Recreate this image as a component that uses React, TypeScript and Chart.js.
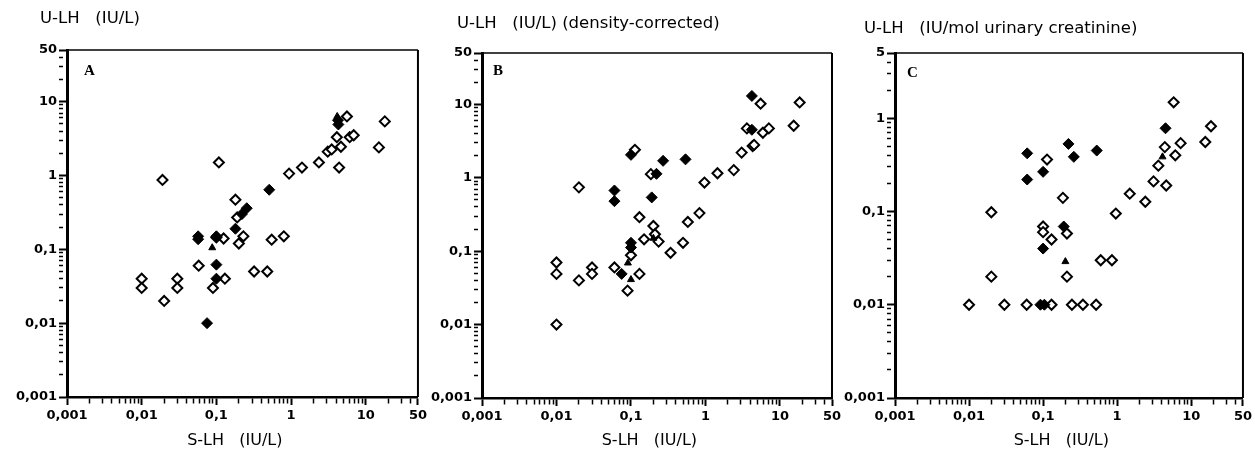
import { useEffect, useRef } from "react";
import { Chart, registerables } from "chart.js";
Chart.register(...registerables);

type Pt = [number, number];

// ---- Axis ticks ----
const xMajorValues = [0.001, 0.01, 0.1, 1, 10, 50];
const xMajorLabels = ["0,001", "0,01", "0,1", "1", "10", "50"];
const yMajorValuesAB = [0.001, 0.01, 0.1, 1, 10, 50];
const yMajorLabelsAB = ["0,001", "0,01", "0,1", "1", "10", "50"];
const yMajorValuesC = [0.001, 0.01, 0.1, 1, 5];
const yMajorLabelsC = ["0,001", "0,01", "0,1", "1", "5"];

// ---- Texts ----
const panelTitles = [
  "U-LH   (IU/L)",
  "U-LH   (IU/L) (density-corrected)",
  "U-LH   (IU/mol urinary creatinine)",
];
const panelLetters = ["A", "B", "C"];
const xAxisTitle = "S-LH   (IU/L)   ";

// ---- Panel A data (S-LH, U-LH) ----
const aOpen: Pt[] = [
  [0.01, 0.04], [0.01, 0.03], [0.019, 0.87], [0.02, 0.02], [0.03, 0.04], [0.03, 0.03],
  [0.058, 0.06], [0.09, 0.03], [0.108, 1.5], [0.13, 0.04], [0.125, 0.14], [0.1, 0.145],
  [0.18, 0.47], [0.19, 0.27], [0.2, 0.12], [0.23, 0.15], [0.32, 0.05], [0.48, 0.05],
  [0.55, 0.135], [0.8, 0.15], [0.94, 1.06], [1.4, 1.28], [2.36, 1.5], [3.1, 2.1],
  [3.5, 2.25], [4.1, 3.3], [4.4, 1.28], [4.65, 2.45], [5.6, 6.3], [6.1, 3.3],
  [6.9, 3.5], [15, 2.4], [18, 5.4],
];
const aFilled: Pt[] = [
  [0.057, 0.15], [0.057, 0.137], [0.1, 0.15], [0.1, 0.062], [0.1, 0.04], [0.075, 0.01],
  [0.18, 0.19], [0.22, 0.3], [0.255, 0.36], [0.51, 0.64], [4.25, 5.6], [4.3, 4.9],
];
const aTriangle: Pt[] = [[0.088, 0.105], [4.15, 6.3]];

// ---- Panel B data ----
const bOpen: Pt[] = [
  [0.01, 0.07], [0.01, 0.049], [0.01, 0.01], [0.02, 0.74], [0.02, 0.04], [0.03, 0.06],
  [0.03, 0.049], [0.06, 0.06], [0.09, 0.029], [0.1, 0.088], [0.113, 2.4], [0.13, 0.29],
  [0.13, 0.049], [0.15, 0.145], [0.185, 1.12], [0.2, 0.22], [0.21, 0.17], [0.235, 0.135],
  [0.34, 0.095], [0.5, 0.13], [0.58, 0.25], [0.83, 0.33], [0.97, 0.86], [1.45, 1.15],
  [2.4, 1.27], [3.06, 2.2], [3.6, 4.7], [4.3, 2.7], [4.5, 2.8], [5.5, 10.2], [5.9, 4.1],
  [7.1, 4.7], [15.3, 5.1], [18.4, 10.6],
];
const bFilled: Pt[] = [
  [0.06, 0.67], [0.06, 0.48], [0.075, 0.049], [0.1, 0.13], [0.1, 0.112], [0.1, 2.05],
  [0.27, 1.7], [0.22, 1.13], [0.19, 0.54], [0.54, 1.78], [4.2, 13], [4.2, 4.5],
];
const bTriangle: Pt[] = [[0.091, 0.069], [0.1, 0.041], [0.2, 0.15]];

// ---- Panel C data ----
const cOpen: Pt[] = [
  [0.01, 0.01], [0.02, 0.098], [0.02, 0.02], [0.03, 0.01], [0.06, 0.01], [0.13, 0.01],
  [0.245, 0.01], [0.345, 0.01], [0.52, 0.01], [0.1, 0.069], [0.1, 0.06], [0.13, 0.05],
  [0.113, 0.36], [0.185, 0.14], [0.21, 0.058], [0.21, 0.02], [0.6, 0.03], [0.85, 0.03],
  [0.96, 0.095], [1.48, 0.155], [2.4, 0.127], [3.1, 0.21], [3.6, 0.31], [4.4, 0.49],
  [4.6, 0.19], [5.8, 1.48], [6.1, 0.4], [7.2, 0.54], [15.5, 0.556], [18.5, 0.82],
];
const cFilled: Pt[] = [
  [0.061, 0.42], [0.061, 0.22], [0.1, 0.266], [0.1, 0.04], [0.092, 0.01], [0.104, 0.01],
  [0.22, 0.53], [0.26, 0.385], [0.53, 0.45], [0.19, 0.069], [4.5, 0.78],
];
const cTriangle: Pt[] = [[0.2, 0.029], [4.1, 0.385]];

const FONT = "'DejaVu Sans', 'Liberation Sans', Arial, sans-serif";

function buildTicks(min: number, max: number, majors: number[]) {
  const vals: number[] = [];
  for (let e = Math.floor(Math.log10(min)); e <= Math.ceil(Math.log10(max)); e++) {
    for (let m = 1; m <= 9; m++) {
      const v = parseFloat((m * Math.pow(10, e)).toPrecision(6));
      if (v >= min * 0.999999 && v <= max * 1.000001) vals.push(v);
    }
  }
  majors.forEach((v) => {
    if (!vals.some((t) => Math.abs(t - v) / v < 1e-6)) vals.push(v);
  });
  return vals.sort((a, b) => a - b);
}

function majorIndex(v: number, majors: number[]) {
  return majors.findIndex((m) => Math.abs(m - v) / m < 1e-6);
}

type PanelCfg = {
  left: number;
  width: number;
  padTop: number;
  padRight: number;
  yWidth: number;
  xHeight: number;
  titleX: number;
  titleY: number;
  yMax: number;
  yMajors: number[];
  yLabels: string[];
  title: string;
  letter: string;
  letterDx: number;
  letterDy: number;
  open: Pt[];
  filled: Pt[];
  tri: Pt[];
};

const panels: PanelCfg[] = [
  {
    left: 0, width: 430, padTop: 50, padRight: 12, yWidth: 67, xHeight: 59,
    titleX: 40, titleY: 19, yMax: 50,
    yMajors: yMajorValuesAB, yLabels: yMajorLabelsAB, title: panelTitles[0],
    letter: panelLetters[0], letterDx: 17, letterDy: 14,
    open: aOpen, filled: aFilled, tri: aTriangle,
  },
  {
    left: 415, width: 430, padTop: 53, padRight: 13, yWidth: 67, xHeight: 58,
    titleX: 42, titleY: 24, yMax: 50,
    yMajors: yMajorValuesAB, yLabels: yMajorLabelsAB, title: panelTitles[1],
    letter: panelLetters[1], letterDx: 11, letterDy: 11,
    open: bOpen, filled: bFilled, tri: bTriangle,
  },
  {
    left: 830, width: 425, padTop: 53, padRight: 10, yWidth: 65, xHeight: 58,
    titleX: 34, titleY: 29, yMax: 5,
    yMajors: yMajorValuesC, yLabels: yMajorLabelsC, title: panelTitles[2],
    letter: panelLetters[2], letterDx: 12, letterDy: 13,
    open: cOpen, filled: cFilled, tri: cTriangle,
  },
];

function Panel({ cfg }: { cfg: PanelCfg }) {
  const ref = useRef<HTMLCanvasElement | null>(null);
  useEffect(() => {
    if (!ref.current) return;
    const xTicks = buildTicks(0.001, 50, xMajorValues);
    const yTicks = buildTicks(0.001, cfg.yMax, cfg.yMajors);

    const framePlugin = {
      id: "frame",
      afterDraw(chart: any) {
        const { ctx, chartArea } = chart;
        ctx.save();
        ctx.strokeStyle = "#000";
        ctx.lineWidth = 1.5;
        ctx.beginPath();
        ctx.moveTo(chartArea.left, chartArea.top);
        ctx.lineTo(chartArea.right, chartArea.top);
        ctx.stroke();
        ctx.lineWidth = 2;
        ctx.beginPath();
        ctx.moveTo(chartArea.right, chartArea.top);
        ctx.lineTo(chartArea.right, chartArea.bottom);
        ctx.stroke();
        ctx.fillStyle = "#000";
        ctx.font = "bold 15px 'Liberation Serif', 'DejaVu Serif', serif";
        ctx.textBaseline = "top";
        ctx.textAlign = "left";
        ctx.fillText(cfg.letter, chartArea.left + cfg.letterDx, chartArea.top + cfg.letterDy);
        ctx.font = "16.5px " + FONT;
        ctx.textBaseline = "middle";
        ctx.fillText(cfg.title, cfg.titleX, cfg.titleY);
        ctx.restore();
      },
    };

    const toXY = (pts: Pt[]) => pts.map(([x, y]) => ({ x, y }));

    const chart = new Chart(ref.current, {
      type: "scatter",
      data: {
        datasets: [
          {
            data: toXY(cfg.tri),
            pointStyle: "triangle",
            pointRadius: 4,
            pointBackgroundColor: "#000",
            pointBorderColor: "#000",
            pointBorderWidth: 1,
          },
          {
            data: toXY(cfg.filled),
            pointStyle: "rectRot",
            pointRadius: 5.5,
            pointBackgroundColor: "#000",
            pointBorderColor: "#000",
            pointBorderWidth: 1,
          },
          {
            data: toXY(cfg.open),
            pointStyle: "rectRot",
            pointRadius: 5,
            pointBackgroundColor: "#fff",
            pointBorderColor: "#000",
            pointBorderWidth: 2,
          },
        ],
      },
      options: {
        animation: false,
        responsive: false,
        events: [],
        layout: { padding: { left: 0, right: cfg.padRight, top: cfg.padTop, bottom: 0 } },
        plugins: {
          legend: { display: false },
          tooltip: { enabled: false },
          title: { display: false },
        },
        scales: {
          x: {
            type: "logarithmic",
            position: "bottom",
            min: 0.001,
            max: 50,
            afterBuildTicks: (scale: any) => {
              scale.ticks = xTicks.map((v) => ({ value: v }));
            },
            afterFit: (scale: any) => {
              scale.height = cfg.xHeight;
            },
            ticks: {
              autoSkip: false,
              maxRotation: 0,
              minRotation: 0,
              padding: 3,
              color: "#000",
              font: { family: FONT, size: 13, weight: "bold" },
              callback: (v: any) => {
                const i = majorIndex(Number(v), xMajorValues);
                return i >= 0 ? xMajorLabels[i] : "";
              },
            },
            grid: {
              drawOnChartArea: false,
              drawTicks: true,
              tickLength: 8,
              tickColor: "#000",
              tickWidth: (ctx: any) => (majorIndex(ctx.tick?.value, xMajorValues) >= 0 ? 2 : 1.5),
              tickBorderDash: (ctx: any) =>
                majorIndex(ctx.tick?.value, xMajorValues) >= 0 ? [] : [5, 40],
            },
            border: { display: true, color: "#000", width: 2.5 },
            title: {
              display: true,
              text: xAxisTitle,
              color: "#000",
              font: { family: FONT, size: 16, weight: "normal" },
              padding: { top: 2, bottom: 6 },
            },
          },
          y: {
            type: "logarithmic",
            position: "left",
            min: 0.001,
            max: cfg.yMax,
            afterBuildTicks: (scale: any) => {
              scale.ticks = yTicks.map((v) => ({ value: v }));
            },
            afterFit: (scale: any) => {
              scale.width = cfg.yWidth;
            },
            ticks: {
              autoSkip: false,
              padding: 2,
              color: "#000",
              font: { family: FONT, size: 13, weight: "bold" },
              callback: (v: any) => {
                const i = majorIndex(Number(v), cfg.yMajors);
                return i >= 0 ? cfg.yLabels[i] : "";
              },
            },
            grid: {
              drawOnChartArea: false,
              drawTicks: true,
              tickLength: 8,
              tickColor: "#000",
              tickWidth: (ctx: any) => (majorIndex(ctx.tick?.value, cfg.yMajors) >= 0 ? 2 : 1.5),
              tickBorderDash: (ctx: any) =>
                majorIndex(ctx.tick?.value, cfg.yMajors) >= 0 ? [] : [4, 40],
            },
            border: { display: true, color: "#000", width: 3 },
          },
        },
      } as any,
      plugins: [framePlugin],
    });
    return () => chart.destroy();
  }, [cfg]);

  return (
    <canvas
      ref={ref}
      width={cfg.width}
      height={456}
      style={{ position: "absolute", left: cfg.left, top: 0, width: cfg.width, height: 456 }}
    />
  );
}

export default function App() {
  return (
    <div
      style={{
        position: "fixed",
        left: 0,
        top: 0,
        width: 1255,
        height: 456,
        background: "#fff",
        overflow: "hidden",
      }}
    >
      {panels.map((p, i) => (
        <Panel key={i} cfg={p} />
      ))}
    </div>
  );
}
